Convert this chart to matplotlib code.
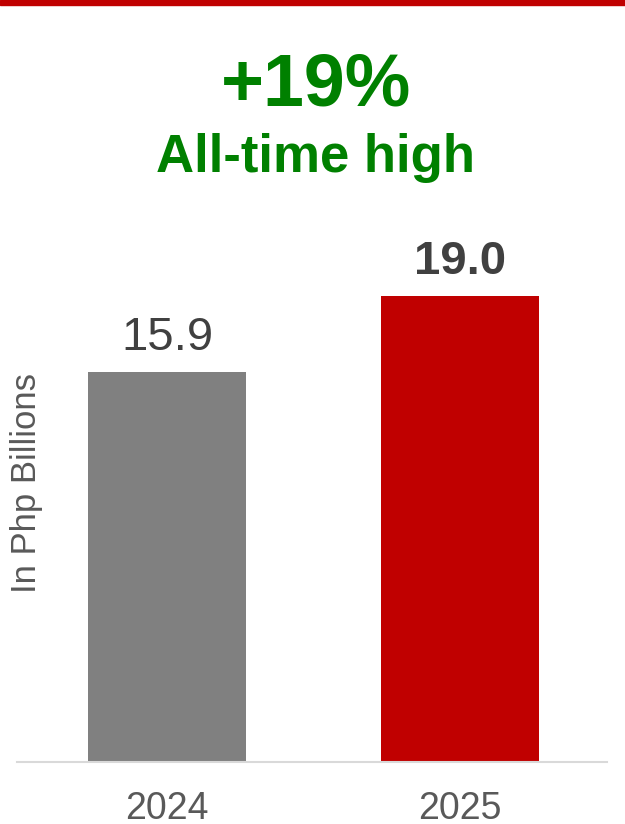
import matplotlib
matplotlib.use('Agg')
import matplotlib.pyplot as plt
from matplotlib.patches import Rectangle

plt.rcParams['font.family'] = ['Liberation Sans', 'DejaVu Sans']

years = ['2024', '2025']
values = [15.9, 19.0]
bar_colours = ['#808080', '#C00000']
label_weights = ['normal', 'bold']

W, H = 625, 824
fig = plt.figure(figsize=(W / 100, H / 100), dpi=100)

# red strip across the top
fig.patches.append(Rectangle((0, 1 - 5 / H), 1, 5 / H, transform=fig.transFigure,
                             color='#C00000', zorder=5))

fig.text(316 / W, 1 - 105 / H, '+19%', ha='center', va='baseline',
         fontsize=53, fontweight='bold', color='#008000')
fig.text(315 / W, 1 - 172 / H, 'All-time high', ha='center', va='baseline',
         fontsize=38, fontweight='bold', color='#008000')

# axes placed so baseline sits at y=762px, spans x 17..607px
ax = fig.add_axes([17 / W, 1 - 762 / H, 590 / W, 562 / H])
x = range(len(years))
bars = ax.bar(x, values, width=0.54, color=bar_colours, zorder=2)
ax.set_xlim(-0.513, 1.504)
ax.set_ylim(0, 562 / 24.53)

for xi, v, w in zip(x, values, label_weights):
    ax.annotate(f'{v:.1f}', (xi, v), xytext=(0, 16), textcoords='offset points',
                ha='center', va='baseline', fontsize=34, fontweight=w, color='#404040')

ax.set_xticks(list(x))
ax.set_xticklabels(years, fontsize=27, color='#595959')
ax.tick_params(axis='x', length=0, pad=21)
ax.set_yticks([])
for s in ['top', 'right', 'left']:
    ax.spines[s].set_visible(False)
ax.spines['bottom'].set_color('#D9D9D9')
ax.spines['bottom'].set_linewidth(1.5)

fig.text(27 / W, 1 - 483 / H, 'In Php Billions', rotation=90, ha='center', va='center',
         fontsize=25, color='#595959')

fig.savefig('out.png', dpi=100)
